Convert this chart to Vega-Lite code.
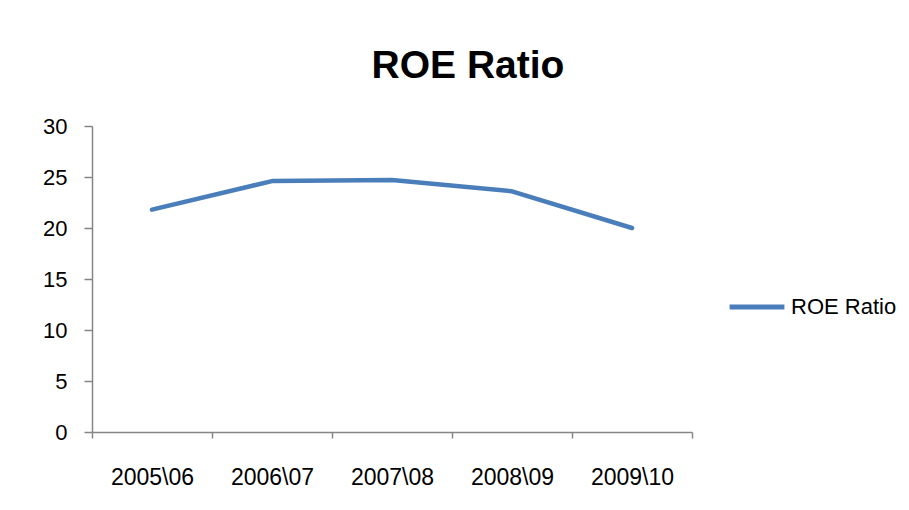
{
  "$schema": "https://vega.github.io/schema/vega-lite/v6.json",
  "autosize": "none",
  "width": 600,
  "height": 306,
  "padding": {"left": 92, "top": 126, "right": 217, "bottom": 78},
  "background": "white",
  "title": {
    "text": "ROE Ratio",
    "font": "Liberation Sans",
    "fontSize": 39,
    "fontWeight": "bold",
    "color": "black",
    "anchor": "middle",
    "frame": "group",
    "dx": 76,
    "baseline": "alphabetic",
    "offset": -2
  },
  "data": {
    "values": [
      {"year": "2005\\06", "value": 21.8, "series": "ROE Ratio"},
      {"year": "2006\\07", "value": 24.6, "series": "ROE Ratio"},
      {"year": "2007\\08", "value": 24.7, "series": "ROE Ratio"},
      {"year": "2008\\09", "value": 23.6, "series": "ROE Ratio"},
      {"year": "2009\\10", "value": 20.0, "series": "ROE Ratio"}
    ]
  },
  "mark": {"type": "line", "strokeWidth": 4.5, "strokeCap": "round", "strokeJoin": "round"},
  "encoding": {
    "x": {
      "field": "year",
      "type": "ordinal",
      "sort": null,
      "scale": {"paddingInner": 0, "paddingOuter": 0},
      "axis": {
        "title": null,
        "labelAngle": 0,
        "tickBand": "extent",
        "tickSize": 6,
        "labelPadding": 28,
        "labelFont": "Liberation Sans",
        "labelFontSize": 23,
        "labelColor": "black",
        "domainColor": "#868686",
        "tickColor": "#868686",
        "domainWidth": 1.5,
        "tickWidth": 1.5,
        "grid": false
      }
    },
    "y": {
      "field": "value",
      "type": "quantitative",
      "scale": {"domain": [0, 30]},
      "axis": {
        "title": null,
        "values": [0, 5, 10, 15, 20, 25, 30],
        "tickSize": 8,
        "labelPadding": 17,
        "labelFont": "Liberation Sans",
        "labelFontSize": 22,
        "labelColor": "black",
        "domainColor": "#868686",
        "tickColor": "#868686",
        "domainWidth": 1.5,
        "tickWidth": 1.5,
        "grid": false
      }
    },
    "color": {
      "field": "series",
      "type": "nominal",
      "scale": {"range": ["#4a7ebb"]},
      "legend": {
        "title": null,
        "orient": "none",
        "legendX": 635,
        "legendY": 151,
        "symbolType": "stroke",
        "symbolSize": 3000,
        "symbolStrokeWidth": 5,
        "labelOffset": 4,
        "labelFont": "Liberation Sans",
        "labelFontSize": 22,
        "labelColor": "black"
      }
    }
  },
  "config": {"view": {"stroke": null}}
}
